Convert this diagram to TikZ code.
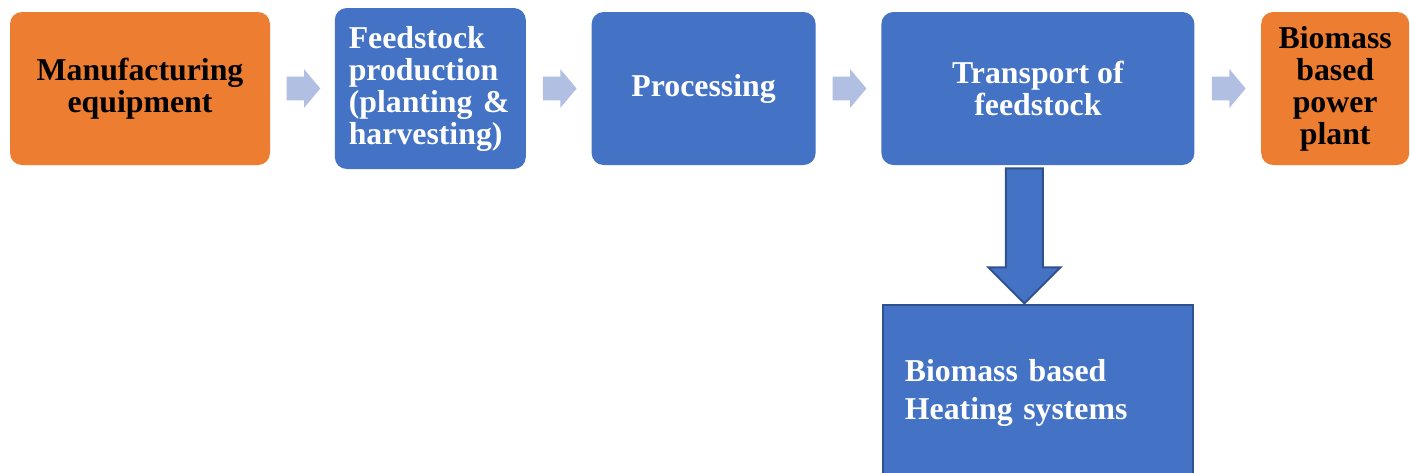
\documentclass[tikz,border=0pt]{standalone}
\usepackage{fontspec}
\setmainfont{Liberation Serif}
\usetikzlibrary{positioning,shapes.arrows}
\definecolor{stageorange}{HTML}{ED7D31}
\definecolor{stageblue}{HTML}{4472C4}
\definecolor{edgeblue}{HTML}{2F528F}
\definecolor{paleblue}{HTML}{B0BFE2}

\begin{document}
\begin{tikzpicture}[
    stage/.style={rounded corners=6pt,minimum height=76.5pt,inner sep=0pt,
      font=\fontsize{15.9}{16}\selectfont\bfseries,align=center},
    hot/.style={stage,fill=stageorange,text=black},
    cold/.style={stage,fill=stageblue,text=white},
    chev/.style={single arrow,fill=paleblue,inner sep=5.75pt,minimum height=16pt,
      single arrow head extend=3.75pt,single arrow tip angle=100,xshift=-2pt},
    node distance=32.5pt]
  \useasboundingbox (0,0) rectangle (705pt,-236pt);
  % supply chain row
  \node[hot,minimum width=130pt] (manu) at (70pt,-44.25pt) {Manufacturing\\equipment};
  \node[cold,minimum width=95.5pt,minimum height=80.5pt,text width=81.5pt,align=left,
    right=32pt of manu] (feed) {Feedstock\\production\\(planting \&\\harvesting)};
  \node[cold,minimum width=112pt,right=of feed] (proc) {Processing};
  \node[cold,minimum width=156.5pt,right=of proc] (trans) {Transport of\\feedstock};
  \node[hot,minimum width=74pt,right=33pt of trans] (power) {Biomass\\based\\power\\plant};
  \path (manu.east) -- node[chev] {} (feed.west);
  \path (feed.east) -- node[chev] {} (proc.west);
  \path (proc.east) -- node[chev] {} (trans.west);
  \path (trans.east) -- node[chev] {} (power.west);
  % branch to heating
  \node[draw=edgeblue,line width=1pt,fill=stageblue,text=white,inner sep=0pt,
    minimum width=155pt,minimum height=88pt,text width=133pt,align=left,
    font=\fontsize{15.9}{19}\selectfont\bfseries,below=69.5pt of trans] (heat)
    {Biomass based\\Heating systems};
  \node[single arrow,draw=edgeblue,line width=1pt,fill=stageblue,inner sep=8.75pt,
    shape border rotate=270,minimum height=67.5pt,
    single arrow head extend=8.75pt,anchor=tail] (down)
    at ([xshift=-6.75pt,yshift=-1pt]trans.south) {};
\end{tikzpicture}
\end{document}
